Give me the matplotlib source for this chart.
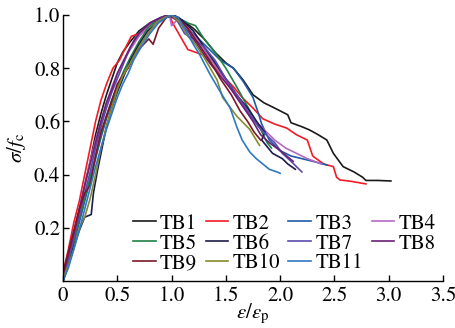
import numpy as np
import matplotlib
matplotlib.use("Agg")
import matplotlib.pyplot as plt

plt.rcParams['font.family'] = ['STIXGeneral', 'DejaVu Serif']
plt.rcParams['mathtext.fontset'] = 'stix'

# normalised stress-strain curves, x = eps/eps_p, y = sigma/f_c
tb1_x = [0, 0.05, 0.1, 0.15, 0.2, 0.25, 0.3, 0.35, 0.4, 0.45, 0.5, 0.55, 0.62, 0.7, 0.8, 0.9, 1.0,
         1.1, 1.2, 1.3, 1.4, 1.5, 1.57, 1.66, 1.75, 1.85, 1.95, 2.07, 2.1, 2.2, 2.27, 2.35, 2.43,
         2.49, 2.58, 2.68, 2.76, 2.79, 2.9, 3.02]
tb1_y = [0, 0.08, 0.17, 0.26, 0.36, 0.45, 0.55, 0.63, 0.7, 0.76, 0.82, 0.86, 0.9, 0.94, 0.97, 0.99, 1.0,
         0.98, 0.95, 0.91, 0.86, 0.82, 0.8, 0.755, 0.7, 0.67, 0.65, 0.625, 0.595, 0.58, 0.568, 0.55, 0.53,
         0.48, 0.43, 0.41, 0.39, 0.378, 0.378, 0.376]

tb2_x = [0, 0.05, 0.1, 0.15, 0.2, 0.25, 0.3, 0.35, 0.4, 0.46, 0.52, 0.58, 0.63, 0.7, 0.78, 0.86, 0.93,
         0.98, 1.01, 1.08, 1.15, 1.29, 1.38, 1.45, 1.57, 1.65, 1.75, 1.84, 1.95, 2.06, 2.15, 2.25, 2.3,
         2.4, 2.49, 2.52, 2.55, 2.65, 2.79]
tb2_y = [0.03, 0.12, 0.22, 0.3, 0.4, 0.5, 0.6, 0.68, 0.74, 0.8, 0.83, 0.88, 0.92, 0.93, 0.96, 0.98, 0.99,
         1.0, 0.97, 0.92, 0.87, 0.85, 0.81, 0.78, 0.73, 0.69, 0.65, 0.61, 0.59, 0.575, 0.55, 0.53, 0.47,
         0.44, 0.43, 0.39, 0.38, 0.375, 0.365]

tb3_x = [0, 0.05, 0.1, 0.15, 0.2, 0.25, 0.3, 0.35, 0.4, 0.45, 0.5, 0.55, 0.62, 0.7, 0.78, 0.86, 0.93,
         1.0, 1.07, 1.15, 1.25, 1.35, 1.45, 1.57, 1.66, 1.75, 1.8, 1.83, 1.9, 2.0, 2.1, 2.2, 2.3, 2.43]
tb3_y = [0, 0.06, 0.14, 0.22, 0.3, 0.38, 0.46, 0.54, 0.61, 0.67, 0.72, 0.77, 0.82, 0.88, 0.93, 0.97, 0.99,
         1.0, 0.99, 0.95, 0.91, 0.87, 0.83, 0.8, 0.75, 0.69, 0.63, 0.59, 0.53, 0.49, 0.47, 0.46, 0.45, 0.436]

tb4_x = [0, 0.05, 0.1, 0.15, 0.2, 0.25, 0.3, 0.35, 0.4, 0.45, 0.5, 0.56, 0.62, 0.7, 0.8, 0.9, 0.98,
         1.0, 1.05, 1.15, 1.25, 1.35, 1.45, 1.55, 1.65, 1.75, 1.85, 1.95, 2.05, 2.15, 2.25, 2.38]
tb4_y = [0.02, 0.1, 0.19, 0.27, 0.36, 0.45, 0.53, 0.6, 0.67, 0.73, 0.78, 0.83, 0.87, 0.92, 0.96, 0.99, 1.0,
         0.96, 0.98, 0.95, 0.9, 0.84, 0.78, 0.72, 0.66, 0.61, 0.57, 0.53, 0.5, 0.48, 0.46, 0.44]

tb5_x = [0, 0.05, 0.1, 0.15, 0.2, 0.25, 0.3, 0.35, 0.4, 0.45, 0.5, 0.56, 0.62, 0.7, 0.78, 0.86, 0.95,
         1.05, 1.15, 1.22, 1.3, 1.4, 1.5, 1.6, 1.68, 1.75, 1.82, 1.88, 1.92]
tb5_y = [0, 0.07, 0.15, 0.23, 0.31, 0.39, 0.47, 0.55, 0.62, 0.68, 0.73, 0.79, 0.84, 0.9, 0.95, 0.98, 1.0,
         0.99, 0.97, 0.96, 0.91, 0.86, 0.8, 0.73, 0.67, 0.62, 0.57, 0.52, 0.5]

tb6_x = [0, 0.05, 0.1, 0.15, 0.2, 0.26, 0.28, 0.32, 0.36, 0.4, 0.45, 0.5, 0.56, 0.62, 0.7, 0.78, 0.86,
         0.95, 1.02, 1.1, 1.2, 1.3, 1.4, 1.5, 1.6, 1.7, 1.8, 1.86, 1.83, 1.89, 1.93, 2.02, 2.07, 2.14]
tb6_y = [0, 0.06, 0.13, 0.19, 0.24, 0.25, 0.33, 0.42, 0.5, 0.58, 0.65, 0.71, 0.77, 0.83, 0.89, 0.94, 0.97,
         0.99, 1.0, 0.98, 0.94, 0.88, 0.82, 0.76, 0.7, 0.65, 0.59, 0.56, 0.53, 0.5, 0.48, 0.46, 0.44, 0.42]

tb7_x = [0, 0.05, 0.1, 0.15, 0.2, 0.25, 0.3, 0.35, 0.4, 0.45, 0.5, 0.55, 0.6, 0.66, 0.72, 0.8, 0.9,
         0.98, 1.05, 1.12, 1.2, 1.3, 1.4, 1.5, 1.6, 1.7, 1.8, 1.87, 1.95, 2.02, 2.1, 2.15, 2.2]
tb7_y = [0.01, 0.08, 0.16, 0.24, 0.33, 0.41, 0.5, 0.58, 0.65, 0.71, 0.76, 0.81, 0.86, 0.91, 0.94, 0.97, 0.99,
         1.0, 0.98, 0.93, 0.91, 0.88, 0.83, 0.76, 0.7, 0.64, 0.58, 0.55, 0.52, 0.48, 0.45, 0.43, 0.41]

tb8_x = [0, 0.05, 0.1, 0.15, 0.2, 0.25, 0.3, 0.35, 0.4, 0.45, 0.5, 0.56, 0.62, 0.7, 0.8, 0.9, 0.97,
         1.05, 1.15, 1.25, 1.35, 1.45, 1.55, 1.65, 1.75, 1.82, 1.9, 2.0, 2.06, 2.12]
tb8_y = [0.02, 0.1, 0.18, 0.27, 0.36, 0.44, 0.52, 0.6, 0.67, 0.72, 0.78, 0.83, 0.88, 0.93, 0.97, 0.99, 1.0,
         0.98, 0.94, 0.88, 0.82, 0.77, 0.72, 0.66, 0.6, 0.55, 0.52, 0.49, 0.47, 0.45]

tb9_x = [0, 0.05, 0.1, 0.15, 0.2, 0.25, 0.3, 0.35, 0.4, 0.45, 0.5, 0.56, 0.6, 0.66, 0.72, 0.79, 0.83,
         0.88, 0.95, 1.0, 1.08, 1.15, 1.25, 1.35, 1.45, 1.55, 1.63, 1.7, 1.76, 1.82]
tb9_y = [0.03, 0.11, 0.19, 0.27, 0.33, 0.36, 0.47, 0.56, 0.62, 0.68, 0.74, 0.78, 0.8, 0.85, 0.88, 0.91, 0.89,
         0.95, 0.99, 1.0, 0.98, 0.95, 0.89, 0.83, 0.76, 0.7, 0.64, 0.6, 0.56, 0.53]

tb10_x = [0, 0.05, 0.1, 0.15, 0.2, 0.25, 0.3, 0.35, 0.4, 0.45, 0.5, 0.55, 0.62, 0.7, 0.78, 0.86, 0.93,
          1.0, 1.08, 1.15, 1.22, 1.3, 1.42, 1.47, 1.6, 1.72, 1.81]
tb10_y = [0.01, 0.06, 0.12, 0.2, 0.24, 0.31, 0.4, 0.5, 0.58, 0.65, 0.72, 0.77, 0.82, 0.88, 0.93, 0.97, 0.99,
          1.0, 0.97, 0.92, 0.89, 0.84, 0.755, 0.69, 0.62, 0.57, 0.51]

tb11_x = [0, 0.05, 0.1, 0.15, 0.2, 0.25, 0.3, 0.35, 0.4, 0.45, 0.5, 0.55, 0.6, 0.65, 0.72, 0.8, 0.88,
          0.95, 1.0, 1.06, 1.12, 1.2, 1.26, 1.35, 1.45, 1.54, 1.6, 1.65, 1.72, 1.78, 1.84, 1.9, 1.97, 2.0]
tb11_y = [0, 0.05, 0.12, 0.19, 0.27, 0.35, 0.43, 0.5, 0.57, 0.63, 0.69, 0.74, 0.78, 0.83, 0.88, 0.93, 0.97,
          0.99, 1.0, 0.99, 0.95, 0.89, 0.85, 0.78, 0.71, 0.65, 0.58, 0.53, 0.485, 0.46, 0.44, 0.42, 0.41, 0.405]

names = ['TB1', 'TB2', 'TB3', 'TB4', 'TB5', 'TB6', 'TB7', 'TB8', 'TB9', 'TB10', 'TB11']
xs = [tb1_x, tb2_x, tb3_x, tb4_x, tb5_x, tb6_x, tb7_x, tb8_x, tb9_x, tb10_x, tb11_x]
ys = [tb1_y, tb2_y, tb3_y, tb4_y, tb5_y, tb6_y, tb7_y, tb8_y, tb9_y, tb10_y, tb11_y]
colors = ['#1a1a1a', '#f01c24', '#1f5aa8', '#b469c4', '#1e8246', '#1c1c4c',
          '#5b4bab', '#6b1f76', '#7a1629', '#858a2e', '#2f78c2']

fig = plt.figure(figsize=(4.56, 3.28), dpi=100)
ax = fig.add_axes([63 / 456, 1 - 281 / 328, 380 / 456, 266 / 328])

lines = {}
for name, x, y, c in zip(names, xs, ys, colors):
    lines[name], = ax.plot(x, y, color=c, lw=1.2)

ax.set_xlim(0, 3.5)
ax.set_ylim(0, 1.0)
ax.set_xticks([0, 0.5, 1.0, 1.5, 2.0, 2.5, 3.0, 3.5])
ax.set_xticklabels(['0', '0.5', '1.0', '1.5', '2.0', '2.5', '3.0', '3.5'])
ax.set_yticks([0.2, 0.4, 0.6, 0.8, 1.0])
ax.set_yticklabels(['0.2', '0.4', '0.6', '0.8', '1.0'])
ax.tick_params(direction='in', length=4, width=1, labelsize=15)
ax.tick_params(axis='x', pad=4)
ax.tick_params(axis='y', pad=2)
for s in ['top', 'right']:
    ax.spines[s].set_visible(False)
for s in ['left', 'bottom']:
    ax.spines[s].set_linewidth(1)

ax.set_xlabel(r'$\varepsilon/\varepsilon_\mathrm{p}$', fontsize=15, labelpad=-3)
ax.set_ylabel(r'$\sigma/f_\mathrm{c}$', fontsize=15, labelpad=4)

# legend is filled column by column, so reorder to read row by row
order = ['TB1', 'TB5', 'TB9', 'TB2', 'TB6', 'TB10', 'TB3', 'TB7', 'TB11', 'TB4', 'TB8']
leg = ax.legend([lines[n] for n in order], order, ncol=4, frameon=False, fontsize=15,
                loc='upper left', bbox_to_anchor=(133 / 456, 1 - 214 / 328),
                bbox_transform=fig.transFigure, borderpad=0, borderaxespad=0,
                handlelength=1.1, handletextpad=0.2, columnspacing=0.4, labelspacing=0.0)

fig.savefig('out.png', dpi=100)
